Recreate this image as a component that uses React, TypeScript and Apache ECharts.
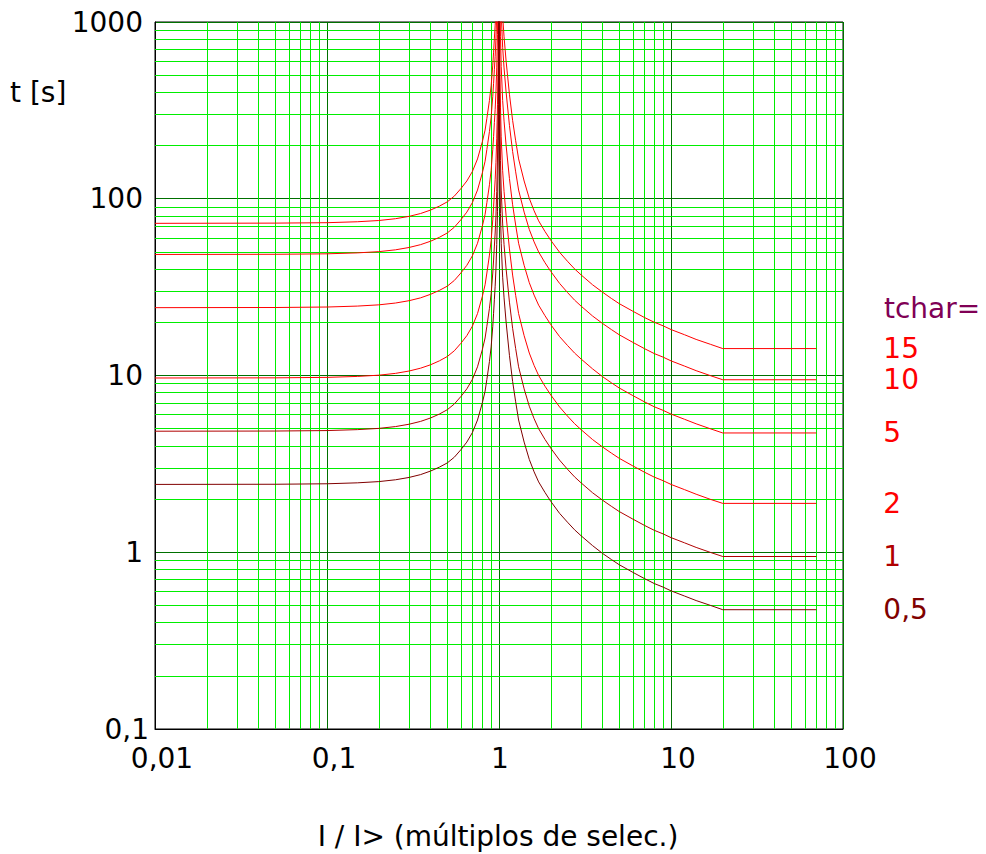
import React, { useEffect, useRef } from "react";
import * as echarts from "echarts";

// I / I> sample points (left of 1 and right of 1)
const I_LEFT = [0.01, 0.05, 0.1, 0.15, 0.2, 0.25, 0.3, 0.35, 0.4, 0.45, 0.5, 0.55, 0.6, 0.65, 0.7, 0.75, 0.8, 0.83, 0.85, 0.88, 0.9, 0.92, 0.93, 0.94, 0.95, 0.96, 0.97, 0.98, 0.99, 0.995, 0.999];
const I_RIGHT = [1.001, 1.005, 1.01, 1.02, 1.03, 1.05, 1.07, 1.1, 1.15, 1.2, 1.25, 1.3, 1.4, 1.5, 1.6, 1.7, 1.85, 2, 2.25, 2.5, 2.75, 3, 3.5, 4, 4.5, 5, 6, 7, 8, 9, 10, 12, 14, 17, 20, 70];

// trip times t [s], one list per tchar (left part, then right part)
const T_15 = [72.6, 72.8, 73.2, 74.1, 75.3, 77.1, 79.5, 82.5, 86.3, 90.8, 96, 103.5, 114, 126, 142.5, 168, 210, 244.5, 285, 360, 435, 570, 675, 810, 960, 1200, 1650, 2550, 5100, 10200, 51000,
  45000, 9300, 4800, 2475, 1680, 1080, 825, 600, 390, 277.5, 213, 168, 126, 100.5, 85.5, 75, 65.3, 58.2, 49.8, 44.3, 40.1, 37.1, 32.6, 29.6, 27.3, 25.5, 23.1, 21.3, 20, 19.1, 18.2, 17, 16, 15, 14.2, 14.2];
const T_10 = [48.4, 48.5, 48.8, 49.4, 50.2, 51.4, 53, 55, 57.5, 60.5, 64, 69, 76, 84, 95, 112, 140, 163, 190, 240, 290, 380, 450, 540, 640, 800, 1100, 1700, 3400, 6800, 34000,
  30000, 6200, 3200, 1650, 1120, 720, 550, 400, 260, 185, 142, 112, 84, 67, 57, 50, 43.5, 38.8, 33.2, 29.5, 26.7, 24.7, 21.7, 19.7, 18.2, 17, 15.4, 14.2, 13.3, 12.7, 12.1, 11.3, 10.65, 9.97, 9.46, 9.46];
const T_5 = [24.2, 24.25, 24.4, 24.7, 25.1, 25.7, 26.5, 27.5, 28.8, 30.3, 32, 34.5, 38, 42, 47.5, 56, 70, 81.5, 95, 120, 145, 190, 225, 270, 320, 400, 550, 850, 1700, 3400, 17000,
  15000, 3100, 1600, 825, 560, 360, 275, 200, 130, 92.5, 71, 56, 42, 33.5, 28.5, 25, 21.8, 19.4, 16.6, 14.8, 13.4, 12.4, 10.9, 9.85, 9.1, 8.5, 7.7, 7.1, 6.65, 6.35, 6.05, 5.65, 5.33, 4.99, 4.73, 4.73];
const T_2 = [9.68, 9.7, 9.76, 9.88, 10.04, 10.28, 10.6, 11, 11.5, 12.1, 12.8, 13.8, 15.2, 16.8, 19, 22.4, 28, 32.6, 38, 48, 58, 76, 90, 108, 128, 160, 220, 340, 680, 1360, 6800,
  6000, 1240, 640, 330, 224, 144, 110, 80, 52, 37, 28.4, 22.4, 16.8, 13.4, 11.4, 10, 8.7, 7.76, 6.64, 5.9, 5.34, 4.94, 4.34, 3.94, 3.64, 3.4, 3.08, 2.84, 2.66, 2.54, 2.42, 2.26, 2.13, 1.99, 1.89, 1.89];
const T_1 = [4.84, 4.85, 4.88, 4.94, 5.02, 5.14, 5.3, 5.5, 5.75, 6.05, 6.4, 6.9, 7.6, 8.4, 9.5, 11.2, 14, 16.3, 19, 24, 29, 38, 45, 54, 64, 80, 110, 170, 340, 680, 3400,
  3000, 620, 320, 165, 112, 72, 55, 40, 26, 18.5, 14.2, 11.2, 8.4, 6.7, 5.7, 5, 4.35, 3.88, 3.32, 2.95, 2.67, 2.47, 2.17, 1.97, 1.82, 1.7, 1.54, 1.42, 1.33, 1.27, 1.21, 1.13, 1.065, 0.997, 0.946, 0.946];
const T_05 = [2.42, 2.425, 2.44, 2.47, 2.51, 2.57, 2.65, 2.75, 2.88, 3.03, 3.2, 3.45, 3.8, 4.2, 4.75, 5.6, 7, 8.15, 9.5, 12, 14.5, 19, 22.5, 27, 32, 40, 55, 85, 170, 340, 1700,
  1500, 310, 160, 82.5, 56, 36, 27.5, 20, 13, 9.25, 7.1, 5.6, 4.2, 3.35, 2.85, 2.5, 2.18, 1.94, 1.66, 1.48, 1.34, 1.24, 1.09, 0.985, 0.91, 0.85, 0.77, 0.71, 0.665, 0.635, 0.605, 0.565, 0.533, 0.5, 0.473, 0.473];

const CURVES = [
  { label: "15", values: T_15, color: "#ff0000" },
  { label: "10", values: T_10, color: "#ff0000" },
  { label: "5", values: T_5, color: "#ff0000" },
  { label: "2", values: T_2, color: "#ff0000" },
  { label: "1", values: T_1, color: "#b00000" },
  { label: "0,5", values: T_05, color: "#800000" },
];

const X_DECADES = [0.01, 0.1, 1, 10];
const Y_DECADES = [0.1, 1, 10, 100];
const MINOR_STEPS = [2, 3, 4, 5, 6, 7, 8, 9];

const FONT = "'DejaVu Sans', sans-serif";

const fmt = (v: number) => Number(v.toPrecision(6)).toString().replace(".", ",");
const fmtX = (v: number) => {
  const s = fmt(v);
  return s.length > 1 ? `{w|${s}}` : `{n|${s}}`;
};
const fmtY = (v: number) => {
  const s = fmt(v);
  return s.indexOf(",") >= 0 ? `{c|${s}}` : `{n|${s}}`;
};

export default function App() {
  const ref = useRef<HTMLDivElement>(null);
  useEffect(() => {
    if (!ref.current) return;
    const chart = echarts.init(ref.current, null, { renderer: "svg" });
    const xs = [...I_LEFT, ...I_RIGHT];
    const minorX = X_DECADES.flatMap((d) => MINOR_STEPS.map((k) => Number((d * k).toPrecision(3))));
    const minorY = Y_DECADES.flatMap((d) => MINOR_STEPS.map((k) => Number((d * k).toPrecision(3))));
    const lbl = { color: "#000000", fontSize: 28, fontFamily: FONT };

    const option: any = {
      animation: false,
      backgroundColor: "#ffffff",
      grid: { left: 155, right: 143, top: 22, bottom: 125, show: true, borderColor: "#000000", borderWidth: 1, backgroundColor: "transparent" },
      xAxis: {
        type: "log",
        logBase: 10,
        min: 0.01,
        max: 100,
        splitNumber: 4,
        axisLine: { show: true, lineStyle: { color: "#000000", width: 1 } },
        axisTick: { show: false },
        axisLabel: {
          formatter: fmtX,
          margin: 15,
          ...lbl,
          rich: {
            w: { ...lbl, padding: [0, 0, 0, 14] },
            n: { ...lbl, padding: [0, 0, 0, 2] },
          },
        },
        splitLine: { show: true, lineStyle: { color: "#007000", width: 1 } },
      },
      yAxis: {
        type: "log",
        logBase: 10,
        min: 0.1,
        max: 1000,
        splitNumber: 4,
        axisLine: { show: true, lineStyle: { color: "#000000", width: 1 } },
        axisTick: { show: false },
        axisLabel: {
          formatter: fmtY,
          margin: 6,
          ...lbl,
          rich: {
            c: { ...lbl, padding: [0, 0, 0, 0] },
            n: { ...lbl, padding: [0, 6, 0, 0] },
          },
        },
        splitLine: { show: true, lineStyle: { color: "#007000", width: 1 } },
      },
      graphic: [
        { type: "text", x: 10, y: 92, style: { text: "t [s]", fontSize: 28, fontFamily: FONT, fill: "#000000", textVerticalAlign: "middle" } },
        { type: "text", x: 498, y: 836, style: { text: "I / I> (múltiplos de selec.)", fontSize: 28, fontFamily: FONT, fill: "#000000", textAlign: "center", textVerticalAlign: "middle" } },
        { type: "text", x: 884, y: 308, style: { text: "tchar=", fontSize: 28, fontFamily: FONT, fill: "#800055", textVerticalAlign: "middle" } },
      ],
      series: [
        {
          type: "line",
          data: [[0.01, 0.1]],
          symbol: "none",
          lineStyle: { opacity: 0 },
          z: 1,
          silent: true,
          markLine: {
            silent: true,
            symbol: ["none", "none"],
            label: { show: false },
            lineStyle: { color: "#00ee00", width: 1, type: "solid" },
            data: [...minorX.map((v) => ({ xAxis: v })), ...minorY.map((v) => ({ yAxis: v }))],
          },
        },
        ...CURVES.map((c) => ({
          type: "line",
          name: c.label,
          data: xs.map((x, i) => [x, c.values[i]]),
          symbol: "none",
          showSymbol: false,
          smooth: false,
          clip: true,
          z: 5,
          color: c.color,
          lineStyle: { color: c.color, width: 1 },
          endLabel: { show: true, formatter: c.label, color: c.color, fontSize: 28, fontFamily: FONT, distance: 67 },
        })),
      ],
    };
    chart.setOption(option);
    return () => chart.dispose();
  }, []);
  return <div ref={ref} style={{ position: "absolute", left: 0, top: 0, width: 986, height: 854 }} />;
}
